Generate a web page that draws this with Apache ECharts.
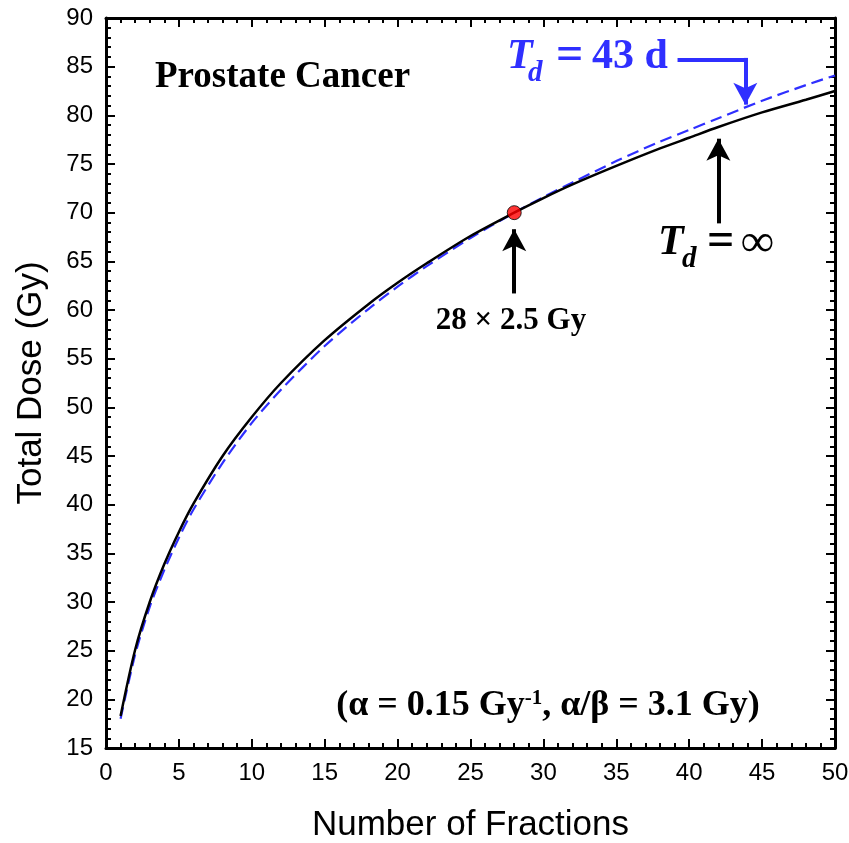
<!DOCTYPE html>
<html lang="en">
<head>
<meta charset="UTF-8">
<title>Prostate Cancer</title>
<script src="https://cdn.jsdelivr.net/npm/echarts@6/dist/echarts.min.js"></script>
<style>
  html, body { margin: 0; padding: 0; background: #fff; }
  #chart { width: 849px; height: 843px; }
</style>
</head>
<body>
<div id="chart"></div>
<script type="text/javascript">
// values
var fractions   = [1, 2, 3, 4, 5, 6, 8, 10, 12, 15, 18, 20, 22, 25, 28, 30, 32, 35, 38, 40, 42, 45, 48, 50];
var doseNoRepop = [18.3, 25.1, 30.0, 33.9, 37.2, 40.1, 45.0, 49.0, 52.5, 56.9, 60.6, 62.8, 64.8, 67.6, 70.0, 71.5, 72.9, 74.8, 76.6, 77.7, 78.8, 80.3, 81.6, 82.5];
var doseRepop   = [18.0, 24.6, 29.5, 33.3, 36.6, 39.5, 44.3, 48.4, 51.8, 56.3, 60.1, 62.4, 64.5, 67.4, 70.0, 71.6, 73.1, 75.3, 77.3, 78.5, 79.7, 81.5, 83.1, 84.1];
var refPoint    = [28, 70];

var xTicks = { min: 0, max: 50, step: 5 };
var yTicks = { min: 15, max: 90, step: 5 };

var blue = '#2f2fff';
var serif = '"Liberation Serif", "Times New Roman", serif';
var sans = '"Liberation Sans", Arial, sans-serif';

function pairs(xs, ys) {
    return xs.map(function (x, i) { return [x, ys[i]]; });
}

var myChart = echarts.init(document.getElementById('chart'));

function axisCommon(t, showLabel) {
    return {
        type: 'value',
        min: t.min, max: t.max, interval: t.step,
        axisLine: { show: true, onZero: false, lineStyle: { color: '#000', width: 3 } },
        axisTick: { show: true, inside: true, length: 9, lineStyle: { color: '#000', width: 2 } },
        minorTick: { show: true, splitNumber: 5, length: 5, lineStyle: { color: '#000', width: 2 } },
        splitLine: { show: false },
        minorSplitLine: { show: false },
        axisLabel: { show: showLabel, color: '#000', fontSize: 24, fontFamily: sans, margin: 13 }
    };
}

var xBottom = axisCommon(xTicks, true);
xBottom.position = 'bottom';
xBottom.name = 'Number of Fractions';
xBottom.nameLocation = 'middle';
xBottom.nameGap = 60;
xBottom.nameTextStyle = { color: '#000', fontSize: 35, fontFamily: sans };
var xTop = axisCommon(xTicks, false);
xTop.position = 'top';

var yLeft = axisCommon(yTicks, true);
yLeft.position = 'left';
yLeft.name = 'Total Dose (Gy)';
yLeft.nameLocation = 'middle';
yLeft.nameGap = 57;
yLeft.nameTextStyle = { color: '#000', fontSize: 35, fontFamily: sans };
var yRight = axisCommon(yTicks, false);
yRight.position = 'right';

function label(x, y, text, font, color, align) {
    return { type: 'text', x: x, y: y, z: 10,
             style: { text: text, font: font, fill: color, align: align || 'left', verticalAlign: 'middle' } };
}

var option = {
    animation: false,
    backgroundColor: '#fff',
    grid: { left: 106, right: 14, top: 18, bottom: 95, containLabel: false, outerBoundsMode: 'none' },
    xAxis: [xBottom, xTop],
    yAxis: [yLeft, yRight],
    series: [
        {
            name: 'Td = 43 d',
            type: 'line',
            smooth: 0.3,
            showSymbol: false,
            data: pairs(fractions, doseRepop),
            lineStyle: { color: blue, width: 2.2, type: [12, 6] },
            z: 2,
            markLine: {
                silent: true,
                label: { show: false },
                lineStyle: { color: blue, width: 4, type: 'solid' },
                symbolSize: [18, 22],
                data: [
                    [{ coord: [39.2, 85.7], symbol: 'none' }, { coord: [43.85, 85.7], symbol: 'none' }],
                    [{ coord: [43.85, 85.9], symbol: 'none' }, { coord: [43.85, 81.1], symbol: 'arrow' }]
                ]
            }
        },
        {
            name: 'Td = inf',
            type: 'line',
            smooth: 0.3,
            showSymbol: false,
            data: pairs(fractions, doseNoRepop),
            lineStyle: { color: '#000', width: 2.5 },
            z: 3,
            markLine: {
                silent: true,
                label: { show: false },
                lineStyle: { color: '#000', width: 4, type: 'solid' },
                symbolSize: [18, 22],
                data: [
                    [{ coord: [28, 61.7], symbol: 'none' }, { coord: [28, 68.3], symbol: 'arrow' }],
                    [{ coord: [42, 68.9], symbol: 'none' }, { coord: [42, 77.6], symbol: 'arrow' }]
                ]
            }
        },
        {
            name: '28 x 2.5 Gy',
            type: 'scatter',
            data: [refPoint],
            symbolSize: 14,
            itemStyle: { color: '#ff0000', borderColor: '#000', borderWidth: 1 },
            z: 5
        }
    ],
    graphic: [
        label(155, 77, 'Prostate Cancer', 'bold 37px ' + serif, '#000'),
        label(507, 57, 'T', 'italic bold 42px ' + serif, blue),
        label(528, 74, 'd', 'italic bold 29px ' + serif, blue),
        label(556, 57, '=', 'bold 48px ' + serif, blue),
        label(592, 57, '43 d', 'bold 42px ' + serif, blue),
        label(658, 243, 'T', 'italic bold 42px ' + serif, '#000'),
        label(682, 260, 'd', 'italic bold 29px ' + serif, '#000'),
        label(707, 243, '=', 'bold 48px ' + serif, '#000'),
        label(741, 244, '\u221e', 'bold 46px ' + serif, '#000'),
        label(511, 321, '28 \u00d7 2.5 Gy', 'bold 31px ' + serif, '#000', 'center'),
        {
            type: 'text', x: 548, y: 706, z: 10,
            style: {
                text: '{a|(\u03b1 = 0.15 Gy}{s|-1}{a|, \u03b1/\u03b2 = 3.1 Gy)}',
                align: 'center', verticalAlign: 'middle',
                rich: {
                    a: { fontFamily: serif, fontWeight: 'bold', fontSize: 36, fill: '#000' },
                    s: { fontFamily: serif, fontWeight: 'bold', fontSize: 21, fill: '#000', verticalAlign: 'top' }
                }
            }
        }
    ]
};
myChart.setOption(option);
</script>
</body>
</html>
